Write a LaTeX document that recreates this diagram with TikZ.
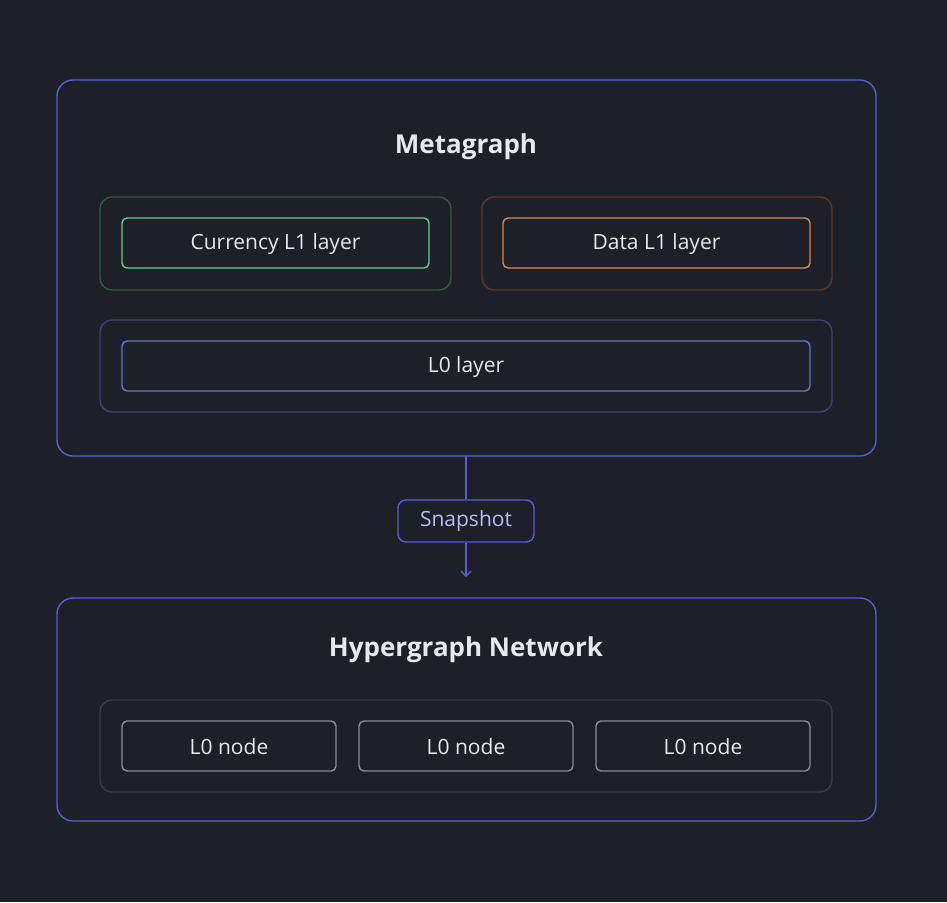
\documentclass[tikz,border=0pt]{standalone}
\usepackage{fontspec}
\setmainfont{Open Sans}
\usetikzlibrary{arrows.meta}
\definecolor{bg}{HTML}{1E2028}
\definecolor{blu}{HTML}{5260D8}
\definecolor{gdark}{HTML}{2F5A45}
\definecolor{glight}{HTML}{5FD08A}
\definecolor{odark}{HTML}{5A3A2A}
\definecolor{olight}{HTML}{E08A40}
\definecolor{bdark}{HTML}{3D437A}
\definecolor{blight}{HTML}{6B72D8}
\definecolor{gydark}{HTML}{3A3D45}
\definecolor{gylight}{HTML}{8A8D95}
\definecolor{txt}{HTML}{E8E9EE}
\definecolor{snap}{HTML}{B8BFF0}
\begin{document}
\begin{tikzpicture}[x=1pt,y=-1pt,
 box/.style={draw,rounded corners=#1,line width=1.4pt},
 lbl/.style={text=txt,font=\fontsize{21}{25}\selectfont},
 ttl/.style={text=txt,font=\bfseries\fontsize{26}{31}\selectfont}]
\fill[bg] (0,0) rectangle (947,902);
\useasboundingbox (0,0) rectangle (947,902);
\draw[box=16pt,blu] (57,80) rectangle (876,456);
\node[ttl] (mt) at (466,147) {Metagraph};
\draw[box=12pt,gdark] (100,197) rectangle (451,290);
\draw[box=5pt,glight] (122,218) rectangle (429,268);
\node[lbl] (cur) at (275.5,244) {Currency L1 layer};
\draw[box=12pt,odark] (482,197) rectangle (832,290);
\draw[box=5pt,olight] (503,218) rectangle (810,268);
\node[lbl] (dat) at (656.5,244) {Data L1 layer};
\draw[box=12pt,bdark] (100,320) rectangle (832,412);
\draw[box=5pt,blight] (122,341) rectangle (810,391);
\node[lbl] (l0) at (466,367) {L0 layer};
\coordinate (mb) at (466,456);
\coordinate (ae) at (466,577);
\node[draw=blu,line width=1.4pt,rounded corners=8pt,minimum width=136pt,minimum height=42pt,fill=bg,text=snap,font=\fontsize{21}{25}\selectfont] (sn) at (466,521) {Snapshot};
\draw[blu,line width=1.4pt] (mb) -- (sn.north);
\draw[blu,line width=1.4pt,-{Straight Barb[length=5pt,width=10pt]}] (sn.south) -- (ae);
\draw[box=16pt,blu] (57,598) rectangle (876,821);
\node[ttl] (ht) at (466,650) {Hypergraph Network};
\draw[box=12pt,gydark] (100,700) rectangle (832,792);
\draw[box=5pt,gylight] (122,721) rectangle (336,771);
\draw[box=5pt,gylight] (359,721) rectangle (573,771);
\draw[box=5pt,gylight] (596,721) rectangle (810,771);
\node[lbl] (n1) at (229,747) {L0 node};
\node[lbl] (n2) at (466,747) {L0 node};
\node[lbl] (n3) at (703,747) {L0 node};
\end{tikzpicture}
\end{document}
